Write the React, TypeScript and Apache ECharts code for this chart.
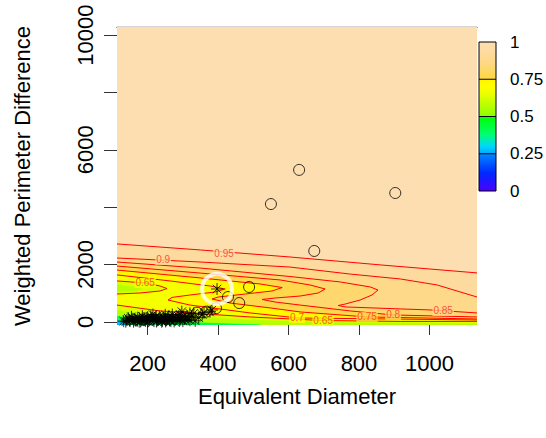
import React, { useEffect, useRef } from "react";
import * as echarts from "echarts";

// ---------- axes ----------
const xLimits = [113, 1135];
const yLimits = [-105, 10280];
const xTickValues = [200, 400, 600, 800, 1000];
const yTickValues = [0, 2000, 4000, 6000, 8000, 10000];
const yLabelValues = [0, 2000, 6000, 10000];
const legendTickValues = [0, 0.25, 0.5, 0.75, 1];
const legendTickLabels = ["0", "0.25", "0.5", "0.75", "1"];

// ---------- contour lines (data coordinates) ----------
const contour95 = [[113, 2720], [350, 2510], [604, 2265], [860, 1990], [1135, 1710]];
const contour90 = [[113, 2230], [349, 2090], [604, 1915], [775, 1670], [917, 1500], [1022, 1290], [1135, 870]];
const contour85 = [[113, 2090], [349, 1880], [604, 1585], [747, 1395], [832, 1220], [854, 1115], [837, 940], [803, 765], [761, 625], [741, 575], [761, 525], [917, 455], [1002, 420], [1135, 315]];
const contour80 = [[113, 1950], [349, 1705], [576, 1465], [661, 1290], [704, 1150], [684, 1010], [633, 905], [562, 835], [525, 785], [562, 695], [633, 590], [775, 385], [897, 245], [1135, 175]];
const contour75 = [[113, 1810], [349, 1535], [519, 1325], [582, 1200], [553, 1080], [477, 975], [400, 870], [383, 800], [434, 660], [548, 490], [633, 350], [823, 175], [1135, 105]];
const contour70 = [[113, 1640], [264, 1430], [377, 1255], [420, 1150], [391, 1045], [320, 940], [269, 855], [258, 765], [320, 590], [491, 315], [627, 140], [1135, 70]];
const contour65a = [[113, 1430], [193, 1360], [235, 1255], [255, 1165], [235, 1080], [178, 1010], [113, 975]];
const contour65b = [[113, 590], [235, 385], [491, 175], [698, 50], [917, 20], [1135, 20]];
const contourLines = [contour95, contour90, contour85, contour80, contour75, contour70, contour65a, contour65b];

// lower-valued areas without drawn lines
const low60a = [[113, 1290], [160, 1215], [185, 1150], [160, 1085], [113, 1050]];
const low60b = [[113, 400], [235, 230], [491, 60], [775, -25], [1135, -60]];
const low40 = [[113, 200], [190, 90], [330, -20], [520, -105]];
const low20 = [[113, 60], [128, 0], [140, -105]];

// contour labels
const contourLabelText = ["0.95", "0.9", "0.65", "0.7", "0.65", "0.75", "0.8", "0.85"];
const contourLabelPos = [[417, 2404], [244, 2165], [193, 1359], [624, 139], [698, 35], [823, 174], [897, 244], [1039, 383]];

// ---------- points ----------
const circlePoints = [[630, 5300], [903, 4495], [550, 4110], [673, 2475], [488, 1220], [428, 870], [460, 660], [340, 325], [366, 360], [394, 480]];
const starPoints = [
  [141, 70], [150, 30], [158, 110], [166, 50], [172, 150], [180, 20], [186, 90], [194, 40], [200, 170], [206, 70],
  [212, 120], [218, 30], [224, 200], [230, 80], [236, 140], [242, 40], [248, 100], [254, 60], [260, 180], [266, 30],
  [272, 120], [278, 70], [284, 150], [290, 40], [297, 360], [305, 100], [312, 200], [320, 60], [331, 303], [345, 150],
  [377, 360], [383, 420], [292, 250], [250, 250], [215, 260], [185, 200], [132, 30], [160, 10], [200, 20], [240, 10],
  [145, 130], [154, 180], [163, 90], [170, 40], [177, 120], [183, 60], [190, 140], [197, 100], [203, 30], [209, 200],
  [216, 90], [221, 140], [227, 50], [233, 180], [239, 90], [245, 150], [251, 20], [257, 110], [263, 80], [269, 160],
  [275, 20], [281, 100], [287, 200], [294, 80], [300, 30], [308, 150], [315, 90], [325, 200], [335, 40], [355, 260],
  [138, 10], [148, 60], [176, 10], [190, 60], [225, 15], [262, 55], [300, 180], [360, 330], [320, 300], [270, 260],
];
const highlightPoint = [[397, 1150]];

// ---------- colour palette (style) ----------
const paletteStops: [number, string][] = [
  [0, "#4B00FF"], [0.12, "#0028FF"], [0.2499, "#0088FF"], [0.25, "#00A8FF"], [0.3, "#00D8FF"],
  [0.38, "#00FF70"], [0.4999, "#00FF00"], [0.5, "#8CFF00"], [0.6, "#C8FF00"], [0.66, "#F0FF00"],
  [0.7, "#FFFF00"], [0.7499, "#FFF200"], [0.75, "#FFD73C"], [0.85, "#FED880"], [0.95, "#FDDBA6"], [1, "#FDDFB2"],
];
function hexRgb(h: string) {
  return [parseInt(h.slice(1, 3), 16), parseInt(h.slice(3, 5), 16), parseInt(h.slice(5, 7), 16)];
}
function paletteColor(v: number): string {
  if (v <= paletteStops[0][0]) return paletteStops[0][1];
  for (let i = 1; i < paletteStops.length; i++) {
    const [b, cb] = paletteStops[i];
    const [a, ca] = paletteStops[i - 1];
    if (v <= b) {
      const t = (v - a) / (b - a);
      const A = hexRgb(ca), B = hexRgb(cb);
      const c = A.map((x, k) => Math.round(x + (B[k] - x) * t));
      return `rgb(${c[0]},${c[1]},${c[2]})`;
    }
  }
  return paletteStops[paletteStops.length - 1][1];
}

const [xMin, xMax] = xLimits;
const [yMin, yMax] = yLimits;
const closeBottom = (pts: number[][]) => [...pts, [xMax, yMin], [xMin, yMin]];

const fillRegions = [
  { pts: [[xMin, yMin], [xMax, yMin], [xMax, yMax], [xMin, yMax]], v: 0.99 },
  { pts: closeBottom(contour95), v: 0.925 },
  { pts: closeBottom(contour90), v: 0.875 },
  { pts: closeBottom(contour85), v: 0.825 },
  { pts: closeBottom(contour80), v: 0.775 },
  { pts: closeBottom(contour75), v: 0.725 },
  { pts: closeBottom(contour70), v: 0.675 },
  { pts: contour65a, v: 0.63 },
  { pts: closeBottom(contour65b), v: 0.63 },
  { pts: low60a, v: 0.57 },
  { pts: closeBottom(low60b), v: 0.57 },
  { pts: [...low40, [xMin, yMin]], v: 0.42 },
  { pts: [...low20, [xMin, yMin]], v: 0.27 },
];

const FONT = "Liberation Sans, Arial, Helvetica, sans-serif";
const STAR = "path://M5,0L5,10M0,5L10,5M1.46,1.46L8.54,8.54M8.54,1.46L1.46,8.54";

function buildLegend() {
  const barX = 479, barW = 17, barTop = 42, barBottom = 191;
  const yOf = (v: number) => barBottom - v * (barBottom - barTop);
  const els: any[] = [];
  const eps = 0.0005;
  for (let i = 0; i < legendTickValues.length - 1; i++) {
    const a = legendTickValues[i], b = legendTickValues[i + 1];
    const stops = [];
    for (let k = 0; k <= 12; k++) {
      const t = k / 12;
      const v = b - eps - t * (b - a - 2 * eps);
      stops.push({ offset: t, color: paletteColor(v) });
    }
    els.push({
      type: "rect",
      shape: { x: barX, y: yOf(b), width: barW, height: yOf(a) - yOf(b) },
      style: { fill: new echarts.graphic.LinearGradient(0, 0, 0, 1, stops) },
      z: 10,
    });
  }
  els.push({
    type: "rect",
    shape: { x: barX, y: barTop, width: barW, height: barBottom - barTop },
    style: { fill: "transparent", stroke: "#000", lineWidth: 1 },
    z: 11,
  });
  legendTickValues.forEach((v, i) => {
    if (v > 0 && v < 1) {
      els.push({
        type: "line",
        shape: { x1: barX, y1: yOf(v), x2: barX + barW, y2: yOf(v) },
        style: { stroke: "#000", lineWidth: 1 },
        z: 11,
      });
    }
    els.push({
      type: "text",
      x: 510,
      y: yOf(v),
      style: { text: legendTickLabels[i], fill: "#000", font: `17px ${FONT}`, verticalAlign: "middle", align: "left" },
      z: 11,
    });
  });
  return els;
}

export default function App() {
  const ref = useRef<HTMLDivElement>(null);
  useEffect(() => {
    const chart = echarts.init(ref.current!, undefined, { renderer: "svg" });
    const plain = (v: number) => String(v);
    const option: any = {
      animation: false,
      textStyle: { fontFamily: FONT },
      grid: { left: 117, right: 69, top: 27, bottom: 113 },
      xAxis: [
        {
          type: "value",
          min: xMin,
          max: xMax,
          name: "Equivalent Diameter",
          nameLocation: "middle",
          nameGap: 60,
          nameTextStyle: { fontSize: 22, color: "#000", fontFamily: FONT },
          axisLine: { show: false },
          axisTick: { show: true, length: 13, lineStyle: { color: "#333" }, customValues: xTickValues },
          axisLabel: { fontSize: 22, color: "#000", margin: 27, customValues: xTickValues, fontFamily: FONT, formatter: plain },
          splitLine: { show: false },
        },
        {
          type: "value",
          position: "top",
          min: xMin,
          max: xMax,
          axisLine: { show: true, lineStyle: { color: "#555", width: 1.3 } },
          axisTick: { show: false },
          axisLabel: { show: false },
          splitLine: { show: false },
        },
      ],
      yAxis: {
        type: "value",
        min: yMin,
        max: yMax,
        name: "Weighted Perimeter Difference",
        nameLocation: "middle",
        nameRotate: 90,
        nameGap: 84,
        nameTextStyle: { fontSize: 22, color: "#000", fontFamily: FONT },
        axisLine: { show: false },
        axisTick: { show: true, length: 13, lineStyle: { color: "#333" }, customValues: yTickValues },
        axisLabel: { fontSize: 22, color: "#000", rotate: 90, margin: 21, customValues: yLabelValues, fontFamily: FONT, formatter: plain },
        splitLine: { show: false },
      },
      graphic: buildLegend(),
      series: [
        {
          type: "custom",
          z: 1,
          clip: true,
          silent: true,
          data: fillRegions.map((_, i) => [xMin, yMin, i]),
          renderItem: (params: any, api: any) => {
            const r = fillRegions[params.dataIndex];
            const col = paletteColor(r.v);
            return {
              type: "polygon",
              shape: { points: r.pts.map((p) => api.coord(p)) },
              style: { fill: col, stroke: col, lineWidth: 0.6 },
            };
          },
        },
        ...contourLines.map((line) => ({
          type: "line",
          z: 2,
          data: line,
          showSymbol: false,
          symbol: "none",
          silent: true,
          lineStyle: { color: "#FF0000", width: 1 },
          clip: true,
        })),
        {
          type: "scatter",
          z: 3,
          silent: true,
          symbolSize: 1,
          itemStyle: { color: "transparent" },
          data: contourLabelPos.map((p, i) => ({
            value: p,
            name: contourLabelText[i],
            label: { backgroundColor: paletteColor(parseFloat(contourLabelText[i]) + 0.01) },
          })),
          label: {
            show: true,
            position: "inside",
            formatter: "{b}",
            color: "#FF2A2A",
            fontSize: 10,
            fontFamily: FONT,
            padding: [0, 1],
          },
        },
        {
          type: "scatter",
          z: 4,
          silent: true,
          symbol: STAR,
          symbolSize: 12,
          data: starPoints,
          itemStyle: { color: "transparent", borderColor: "#000", borderWidth: 1 },
        },
        {
          type: "scatter",
          z: 4,
          silent: true,
          symbol: STAR,
          symbolSize: 12,
          data: highlightPoint,
          itemStyle: { color: "transparent", borderColor: "#000", borderWidth: 1 },
        },
        {
          type: "scatter",
          z: 4,
          silent: true,
          symbol: "circle",
          symbolSize: 11,
          data: circlePoints,
          itemStyle: { color: "transparent", borderColor: "#000", borderWidth: 1 },
        },
        {
          type: "scatter",
          z: 5,
          silent: true,
          symbol: "circle",
          symbolSize: 30,
          data: highlightPoint,
          itemStyle: { color: "transparent", borderColor: "#FFFFFF", borderWidth: 4 },
        },
      ],
    };
    chart.setOption(option);
    return () => chart.dispose();
  }, []);
  return <div ref={ref} style={{ position: "fixed", left: 0, top: 0, width: 546, height: 438, background: "#fff" }} />;
}
